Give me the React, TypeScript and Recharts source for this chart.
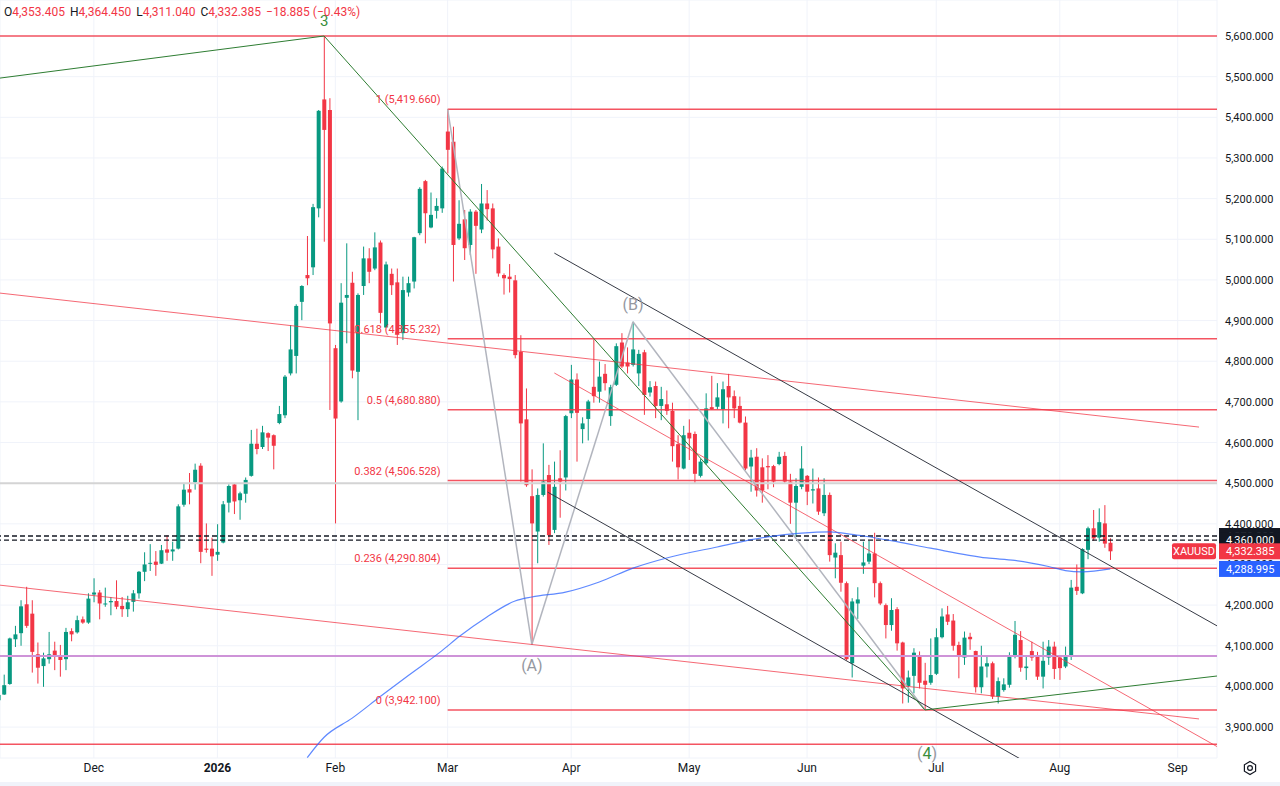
import React from 'react';
import { ComposedChart, Bar, Line, XAxis, YAxis, CartesianGrid, ReferenceLine, ReferenceDot } from 'recharts';

// daily XAUUSD candles, index 0 = first (cut off) bar on the left
const opens = [
  3966, 3980, 4006, 4116, 4131, 4202, 4179, 4079, 4050, 4067, 4088, 4073, 4067, 4136, 4133, 4165, 4157, 4226, 4231, 4202,
  4207, 4210, 4198, 4190, 4208, 4229, 4282, 4302, 4307, 4302, 4337, 4332, 4339, 4447, 4485, 4502, 4543, 4339, 4339, 4324,
  4354, 4452, 4497, 4458, 4474, 4518, 4597, 4589, 4623, 4618, 4648, 4667, 4770, 4813, 4946, 5012, 5031, 5176, 5444, 5418,
  4832, 4701, 4956, 4993, 4774, 4985, 5053, 5028, 5092, 4883, 5015, 4994, 4869, 4969, 4996, 5115, 5243, 5129, 5170, 5176,
  5365, 5340, 5102, 5149, 5086, 5168, 5124, 5188, 5176, 5082, 5012, 5008, 4999, 4823, 4657, 4468, 4381, 4471, 4520, 4385,
  4512, 4514, 4672, 4755, 4633, 4658, 4737, 4725, 4769, 4665, 4742, 4846, 4797, 4791, 4770, 4822, 4723, 4739, 4690, 4694,
  4678, 4596, 4536, 4624, 4621, 4518, 4549, 4687, 4688, 4682, 4739, 4714, 4690, 4649, 4541, 4565, 4539, 4542, 4542, 4547,
  4567, 4504, 4452, 4491, 4518, 4482, 4487, 4426, 4471, 4317, 4323, 4254, 4057, 4204, 4297, 4307, 4327, 4254, 4200, 4151,
  4190, 4108, 4001, 4026, 4075, 4014, 4009, 4031, 4121, 4177, 4162, 4102, 4071, 4122, 4087, 3998, 4049, 4057, 3975, 3991,
  4004, 4073, 4114, 4045, 4087, 4077, 4024, 4071, 4098, 4071, 4049, 4073, 4245, 4229, 4336, 4389, 4366, 4401, 4353.405,
];
const highs = [
  3985, 4029, 4120, 4149, 4212, 4245, 4212, 4108, 4083, 4134, 4110, 4102, 4144, 4143, 4174, 4172, 4229, 4266, 4237, 4243,
  4220, 4261, 4220, 4223, 4237, 4284, 4330, 4350, 4333, 4348, 4372, 4356, 4448, 4500, 4525, 4548, 4549, 4401, 4366, 4399,
  4456, 4497, 4500, 4479, 4514, 4631, 4634, 4641, 4625, 4620, 4690, 4766, 4889, 4940, 4987, 5108, 5187, 5418, 5598, 5447,
  4840, 4992, 5090, 5020, 4967, 5082, 5078, 5117, 5097, 5045, 5028, 5028, 5008, 5008, 5106, 5228, 5246, 5215, 5201, 5279,
  5420, 5377, 5196, 5172, 5174, 5172, 5236, 5221, 5188, 5102, 5016, 5039, 5012, 4864, 4733, 4534, 4487, 4598, 4545, 4553,
  4581, 4668, 4791, 4770, 4662, 4705, 4854, 4799, 4793, 4742, 4844, 4869, 4834, 4897, 4828, 4828, 4751, 4750, 4737, 4728,
  4698, 4618, 4641, 4657, 4627, 4559, 4721, 4764, 4746, 4750, 4769, 4728, 4713, 4664, 4582, 4586, 4561, 4569, 4545, 4577,
  4577, 4523, 4512, 4591, 4520, 4536, 4514, 4512, 4477, 4352, 4356, 4258, 4217, 4244, 4356, 4358, 4378, 4258, 4204, 4217,
  4195, 4110, 4039, 4094, 4086, 4058, 4118, 4143, 4192, 4198, 4178, 4110, 4135, 4132, 4088, 4100, 4076, 4061, 4022, 4020,
  4084, 4161, 4136, 4077, 4110, 4085, 4110, 4114, 4110, 4077, 4098, 4262, 4300, 4340, 4393, 4434, 4438, 4446, 4364.45,
];
const lows = [
  3960, 3979, 4004, 4097, 4100, 4144, 4034, 4007, 3999, 4056, 4040, 4024, 4040, 4111, 4130, 4154, 4154, 4207, 4165, 4196,
  4175, 4190, 4171, 4171, 4184, 4216, 4259, 4284, 4272, 4301, 4309, 4309, 4337, 4442, 4448, 4484, 4303, 4329, 4272, 4309,
  4352, 4428, 4424, 4410, 4452, 4516, 4571, 4584, 4579, 4534, 4645, 4660, 4765, 4770, 4901, 4987, 5012, 5154, 5094, 4680,
  4401, 4698, 4844, 4758, 4655, 4963, 4992, 5024, 4893, 4883, 4963, 4840, 4852, 4959, 4979, 5110, 5090, 5127, 5151, 5165,
  5262, 4996, 5098, 5049, 5061, 5015, 5115, 5146, 5053, 5008, 4964, 4969, 4807, 4504, 4491, 4103, 4303, 4467, 4348, 4377,
  4415, 4482, 4660, 4553, 4598, 4605, 4698, 4698, 4728, 4641, 4739, 4783, 4770, 4787, 4739, 4668, 4713, 4660, 4655, 4668,
  4553, 4509, 4534, 4557, 4500, 4514, 4545, 4680, 4682, 4647, 4635, 4660, 4647, 4532, 4479, 4467, 4452, 4485, 4490, 4544,
  4500, 4400, 4368, 4485, 4446, 4450, 4422, 4419, 4307, 4266, 4233, 4064, 4022, 4166, 4277, 4301, 4219, 4200, 4118, 4137,
  4088, 3958, 3960, 3983, 3995, 3942.1, 4004, 4028, 4118, 4151, 4088, 4020, 4053, 4090, 3985, 3983, 4022, 3969, 3958, 3987,
  3997, 4069, 4036, 4016, 4063, 4016, 3995, 4053, 4018, 4016, 4045, 4065, 4225, 4227, 4313, 4358, 4356, 4341, 4311.04,
];
const closes = [
  3979, 4003, 4118, 4128, 4197, 4149, 4085, 4046, 4069, 4079, 4075, 4065, 4134, 4128, 4163, 4157, 4216, 4231, 4204, 4204,
  4210, 4196, 4190, 4207, 4229, 4282, 4300, 4304, 4299, 4335, 4329, 4337, 4443, 4484, 4477, 4533, 4331, 4336, 4320, 4331,
  4448, 4493, 4455, 4475, 4508, 4597, 4584, 4625, 4612, 4592, 4670, 4762, 4829, 4936, 4985, 5004, 5179, 5416, 5369, 4893,
  4659, 4944, 4963, 4777, 4963, 5053, 5020, 5080, 4919, 5038, 4987, 4865, 4975, 4992, 5105, 5224, 5164, 5160, 5182, 5274,
  5320, 5086, 5138, 5078, 5168, 5133, 5188, 5174, 5075, 5016, 5004, 5002, 4815, 4647, 4495, 4401, 4471, 4504, 4372, 4491,
  4504, 4665, 4755, 4673, 4647, 4701, 4714, 4762, 4746, 4736, 4837, 4787, 4787, 4829, 4818, 4717, 4736, 4690, 4707, 4678,
  4591, 4539, 4618, 4610, 4523, 4553, 4684, 4682, 4711, 4731, 4711, 4684, 4649, 4536, 4563, 4482, 4482, 4539, 4504, 4565,
  4504, 4452, 4493, 4536, 4479, 4485, 4430, 4471, 4323, 4329, 4255, 4067, 4209, 4214, 4305, 4327, 4254, 4204, 4151, 4188,
  4106, 3995, 4022, 4083, 4009, 4004, 4028, 4121, 4172, 4159, 4100, 4073, 4120, 4116, 3998, 4049, 4057, 3975, 4013, 4005,
  4073, 4127, 4046, 4049, 4071, 4024, 4063, 4098, 4043, 4045, 4073, 4243, 4235, 4338, 4389, 4364, 4404, 4351.27, 4332.385,
];

// moving average, read at a few bars
const maIdx = [55, 58, 63, 68, 73, 79, 82, 87, 92, 95, 101, 107, 113, 119, 128, 137, 143, 148, 152, 154, 160, 166, 176, 181, 187, 190, 193, 198];
const maVals = [3825, 3875, 3922, 3975, 4027, 4088, 4122, 4171, 4210, 4220, 4232, 4257, 4291, 4316, 4343, 4368, 4377, 4380, 4374, 4370, 4356, 4340, 4316, 4310, 4295, 4285, 4282, 4289];

const monthTicks = [17, 39, 60, 80, 102, 123, 144, 167, 189, 210];
const monthLabels = ['Dec', '2026', 'Feb', 'Mar', 'Apr', 'May', 'Jun', 'Jul', 'Aug', 'Sep'];
const priceTicks = [3900, 4000, 4100, 4200, 4300, 4400, 4500, 4600, 4700, 4800, 4900, 5000, 5100, 5200, 5300, 5400, 5500, 5600];

// fib retracement drawn from the March high
const fibStart = 80;
const fibRatios = ['1', '0.618', '0.5', '0.382', '0.236', '0'];
const fibPrices = [5419.66, 4855.232, 4680.88, 4506.528, 4290.804, 3942.1];

const redLevels = [5600, 3858];
const dashedLevels = [4370, 4360];
const purpleLevel = 4075;
const grayLevel = 4500;

// trend lines: [fromIndex, fromPrice, toIndex, toPrice]
const redRays = [[0, 4968, 213.8, 4638], [0, 4249.5, 213.8, 3920], [99, 4771, 217, 3852]];
const blackRays = [[99, 5066, 217, 4149], [97.8, 4478, 183.6, 3809]];
const greenWave = [[0, 5496, 58, 5600], [58, 5600, 165, 3942.1], [165, 3942.1, 217, 4025.6]];
const grayWave = [[80, 5419.66, 95, 4103], [95, 4103, 113, 4897], [113, 4897, 165, 3942.1]];

const waveNames = ['3', '(A)', '(B)', '(4)'];
const waveIdx = [58, 95, 113, 165];
const wavePrices = [5600, 4103, 4897, 3942.1];

// price tags on the scale
const tagPrices = [4370, 4360, 4332.385, 4288.995];

const W = 1280;
const H = 786;
const AXIS_W = 62;
const Y_DOMAIN = [3823.9, 5688.6];
const RED = '#f23645';
const GREEN = '#089981';
const FONT = 'Roboto, "Noto Sans", sans-serif';

const fmt = (v: number) => v.toLocaleString('en-US', { minimumFractionDigits: 3, maximumFractionDigits: 3 });

const rows = opens.map((o, i) => {
  const k = maIdx.indexOf(i);
  return { i, o, h: highs[i], l: lows[i], c: closes[i], range: [lows[i], highs[i]], ma: k >= 0 ? maVals[k] : null };
});

const Candle = (props: any) => {
  const { x, y, width, height, payload } = props;
  if (!payload || height == null || isNaN(y)) return null;
  const { o, h, l, c } = payload;
  const top = Math.min(y, y + height);
  const span = Math.abs(height);
  const k = span / (h - l || 1);
  const color = c >= o ? GREEN : RED;
  const bTop = top + (h - Math.max(o, c)) * k;
  const bH = Math.max(1, Math.abs(o - c) * k);
  const cx = x + width / 2;
  return (
    <g>
      <line x1={cx} x2={cx} y1={top} y2={top + span} stroke={color} strokeWidth={1} />
      <rect x={x} y={bTop} width={width} height={bH} fill={color} />
    </g>
  );
};

const MonthTick = (props: any) => {
  const { x, y, payload } = props;
  const label = monthLabels[monthTicks.indexOf(payload.value)];
  return (
    <text x={x} y={y + 14} textAnchor="middle" fontSize={12} fontFamily={FONT} fill="#131722" fontWeight={label === '2026' ? 700 : 400}>
      {label}
    </text>
  );
};

const PriceTick = (props: any) => {
  const { x, y, payload } = props;
  return (
    <text x={x + 8} y={y + 4} fontSize={11} fontFamily={FONT} fill="#131722">
      {fmt(payload.value)}
    </text>
  );
};

const tagColors = ['#131722', '#131722', RED, '#2962ff'];

const TagTick = (props: any) => {
  const { y, payload } = props;
  const k = tagPrices.indexOf(payload.value);
  if (k < 0) return null;
  const left = W - AXIS_W;
  return (
    <g>
      {k === 2 && (
        <g>
          <rect x={left - 46} y={y - 8} width={44} height={16} rx={2} fill={RED} />
          <text x={left - 24} y={y + 4} textAnchor="middle" fontSize={11} fontFamily={FONT} fill="#fff">XAUUSD</text>
        </g>
      )}
      <rect x={left + 1} y={y - 8} width={AXIS_W - 1} height={16} fill={tagColors[k]} />
      <text x={left + 8} y={y + 4} fontSize={11} fontFamily={FONT} fill="#fff">{fmt(payload.value)}</text>
    </g>
  );
};

const seg = (s: number[]) => [{ x: s[0], y: s[1] }, { x: s[2], y: s[3] }];

export default function App() {
  const last = opens.length - 1;
  const change = closes[last] - closes[last - 1];
  const pct = (change / closes[last - 1]) * 100;
  const signed = (v: number, d: number) => (v < 0 ? '\u2212' : '+') + Math.abs(v).toFixed(d);
  const ohlc = [['O', opens[last]], ['H', highs[last]], ['L', lows[last]], ['C', closes[last]]] as [string, number][];

  return (
    <div style={{ position: 'relative', width: W, height: H, background: '#fff', fontFamily: FONT }}>
      <style>{'body{margin:0}'}</style>
      <ComposedChart width={W} height={H} data={rows} margin={{ top: 0, right: 0, bottom: 0, left: 0 }}>
        <CartesianGrid stroke="#f0f3fa" />
        <XAxis dataKey="i" type="number" domain={[0.285, 217]} ticks={monthTicks} interval={0} allowDataOverflow
          axisLine={false} tickLine={false} tickSize={0} tickMargin={0} height={28} tick={<MonthTick />} />
        <YAxis orientation="right" type="number" domain={Y_DOMAIN} ticks={priceTicks} interval={0} allowDataOverflow
          axisLine={false} tickLine={false} tickSize={0} tickMargin={0} width={AXIS_W} tick={<PriceTick />} />
        <YAxis yAxisId="tags" orientation="right" type="number" domain={Y_DOMAIN} ticks={tagPrices} interval={0}
          allowDataOverflow axisLine={false} tickLine={false} tickSize={0} tickMargin={0} width={1} tick={<TagTick />} />

        <ReferenceLine y={grayLevel} stroke="#d4d4d4" strokeWidth={2} />
        <ReferenceLine y={purpleLevel} stroke="#ce93d8" strokeWidth={2} />
        {redLevels.map((p) => <ReferenceLine key={'r' + p} y={p} stroke={RED} strokeOpacity={0.85} strokeWidth={1.5} />)}
        {dashedLevels.map((p) => <ReferenceLine key={'d' + p} y={p} stroke="#131722" strokeWidth={1.3} strokeDasharray="5 3" />)}

        {fibPrices.map((p, k) => (
          <ReferenceLine key={'f' + k} segment={[{ x: fibStart, y: p }, { x: 217, y: p }]} stroke={RED} strokeOpacity={0.85} strokeWidth={1.5} ifOverflow="hidden" />
        ))}
        {fibPrices.map((p, k) => (
          <ReferenceDot key={'fl' + k} x={fibStart} y={p} r={0} ifOverflow="visible"
            shape={(s: any) => (
              <text x={s.cx - 7} y={s.cy - 6} textAnchor="end" fontSize={11} fontFamily={FONT} fill={RED}>
                {`${fibRatios[k]} (${fmt(p)})`}
              </text>
            )} />
        ))}

        <Bar dataKey="range" barSize={4} shape={<Candle />} isAnimationActive={false} />

        {grayWave.map((s, k) => <ReferenceLine key={'g' + k} segment={seg(s)} stroke="#b2b5be" strokeWidth={1.5} ifOverflow="hidden" />)}
        {redRays.map((s, k) => <ReferenceLine key={'rr' + k} segment={seg(s)} stroke={RED} strokeOpacity={0.75} strokeWidth={1} ifOverflow="hidden" />)}
        {blackRays.map((s, k) => <ReferenceLine key={'b' + k} segment={seg(s)} stroke="#363a45" strokeWidth={1} ifOverflow="hidden" />)}
        {greenWave.map((s, k) => <ReferenceLine key={'gw' + k} segment={seg(s)} stroke="#2e7d32" strokeWidth={1} ifOverflow="hidden" />)}

        <Line dataKey="ma" type="monotone" connectNulls dot={false} activeDot={false} stroke="#2962ff" strokeOpacity={0.75}
          strokeWidth={1.2} isAnimationActive={false} />
        {/* invisible series so the tag scale is active */}
        <Line yAxisId="tags" dataKey="ma" connectNulls dot={false} activeDot={false} stroke="none" strokeWidth={0}
          isAnimationActive={false} legendType="none" />

        {waveNames.map((n, k) => (
          <ReferenceDot key={'w' + k} x={waveIdx[k]} y={wavePrices[k]} r={0} ifOverflow="visible"
            shape={(s: any) => {
              const dy = k === 0 ? -10 : k === 1 ? 26 : k === 2 ? -12 : 49;
              if (n === '(4)') {
                return (
                  <text x={s.cx + 2} y={s.cy + dy} textAnchor="middle" fontSize={16} fontFamily={FONT} fill="#9598a1">
                    (<tspan fill="#388e3c">4</tspan>)
                  </text>
                );
              }
              return (
                <text x={s.cx} y={s.cy + dy} textAnchor="middle" fontSize={n === '3' ? 15 : 16} fontFamily={FONT}
                  fill={n === '3' ? '#388e3c' : '#9598a1'}>
                  {n}
                </text>
              );
            }} />
        ))}
      </ComposedChart>

      <div style={{ position: 'absolute', left: 4, top: 4, fontSize: 12, whiteSpace: 'pre', color: RED, lineHeight: '16px' }}>
        {ohlc.map(([k, v]) => (
          <span key={k} style={{ marginRight: 5 }}>
            <span style={{ color: '#131722' }}>{k}</span>{fmt(v)}
          </span>
        ))}
        <span>{signed(change, 3)} ({signed(pct, 2)}%)</span>
      </div>

      <svg style={{ position: 'absolute', left: 1241, top: 759 }} width={18} height={18} viewBox="0 0 18 18">
        <path d="M9 2.5 L14.6 5.75 L14.6 12.25 L9 15.5 L3.4 12.25 L3.4 5.75 Z" fill="none" stroke="#131722" strokeWidth={1.2} />
        <circle cx={9} cy={9} r={2.4} fill="none" stroke="#131722" strokeWidth={1.2} />
      </svg>
      <div style={{ position: 'absolute', left: 0, top: 782, width: W, height: 4, background: '#f0f3fa' }} />
    </div>
  );
}
